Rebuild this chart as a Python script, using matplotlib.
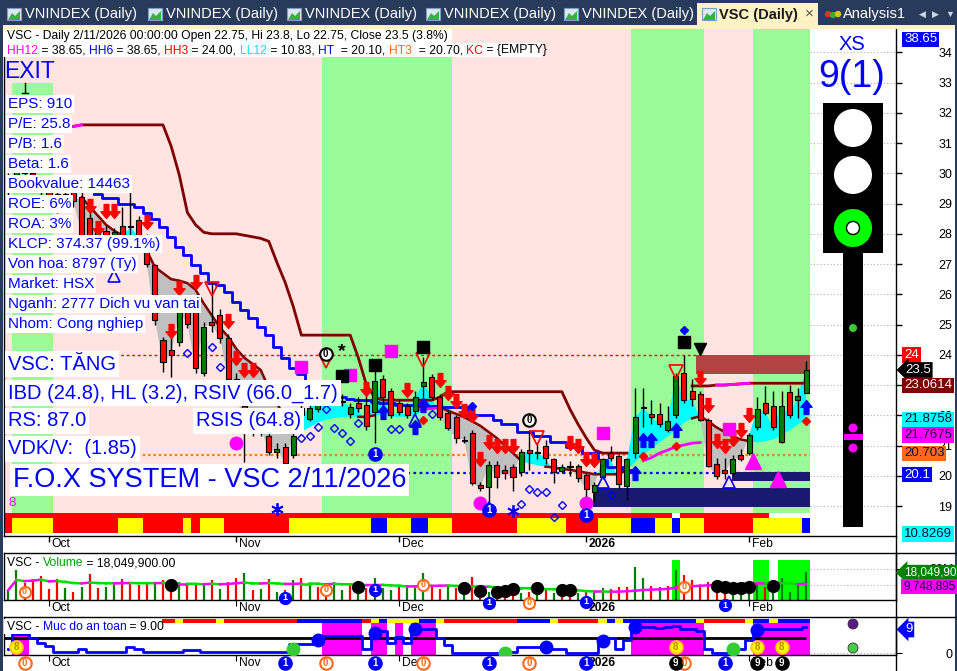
import numpy as np
import pandas as pd
import matplotlib
matplotlib.use("Agg")
import matplotlib.pyplot as plt
from matplotlib.patches import Rectangle, Circle, Polygon
from matplotlib.path import Path
from matplotlib.font_manager import FontProperties
import matplotlib.transforms as mtrans

plt.rcParams['font.family'] = ['Liberation Sans', 'DejaVu Sans']
nan = np.nan

# ---------------- data (one bar per session, late Sep 2025 -> 11 Feb 2026)
OPEN = [29.6, 29.8, 30.3, 30.0, 29.7, 29.5, 29.3, 28.9, 29.4, 29.2,
        28.52, 27.7, 28.1, 27.95, 28.25, 28.23, 28.46, 27.9, 26.97, 24.5,
        24.16, 24.43, 25.52, 25.42, 23.4, 25.1, 25.3, 24.56, 23.2, 22.3,
        21.8, 21.5, 21.3, 20.8, 20.95, 20.7, 22.24, 21.88, 22.2, 22.8,
        22.6, 22.45, 22.04, 22.4, 22.33, 22.12, 23.2, 22.8, 22.4, 22.3,
        22.15, 22.97, 23.28, 22.6, 22.08, 21.95, 21.15, 21.43, 19.7, 19.64,
        20.36, 20.2, 20.3, 20.13, 20.85, 20.76, 21.0, 20.56, 20.17, 20.3,
        20.33, 20.03, 19.47, 19.96, 20.76, 20.65, 19.67, 20.75, 22.23, 22.04,
        22.04, 21.53, 22.0, 23.4, 22.8, 22.7, 21.84, 20.4, 20.18, 20.08,
        20.7, 20.77, 21.6, 22.4, 22.3, 21.13, 22.76, 22.5, 22.75]
HIGH = [30.0, 30.6, 30.4, 30.1, 29.8, 29.6, 29.4, 29.5, 29.5, 29.4,
        28.7, 28.3, 28.3, 28.2, 28.9, 29.4, 28.6, 28.0, 27.0, 24.6,
        24.93, 25.6, 25.8, 25.5, 25.1, 26.4, 25.5, 24.7, 23.4, 22.6,
        22.0, 21.8, 21.5, 21.1, 21.1, 21.4, 22.4, 22.5, 22.7, 22.9,
        22.9, 22.7, 22.4, 22.6, 22.74, 23.66, 23.33, 22.9, 22.5, 22.4,
        22.8, 23.94, 23.35, 22.7, 22.2, 22.0, 21.3, 21.5, 19.8, 20.5,
        20.5, 20.35, 20.4, 20.9, 21.5, 21.1, 21.2, 20.6, 20.4, 20.5,
        20.4, 20.1, 19.8, 20.6, 20.98, 20.7, 20.6, 22.9, 22.9, 22.5,
        22.4, 22.3, 23.4, 24.0, 23.2, 22.8, 21.9, 20.6, 20.6, 20.7,
        20.9, 21.4, 22.6, 22.97, 22.8, 22.8, 23.0, 22.9, 23.8]
LOW = [29.2, 29.6, 29.8, 29.5, 29.2, 29.0, 28.7, 28.8, 28.9, 27.8,
       27.5, 27.6, 27.7, 27.8, 27.8, 27.9, 27.8, 26.9, 25.0, 23.44,
       23.28, 24.3, 24.9, 23.4, 23.3, 24.75, 24.4, 23.0, 22.4, 20.45,
       21.3, 21.3, 20.7, 20.6, 20.3, 20.6, 21.9, 21.8, 22.1, 22.5,
       22.4, 22.3, 21.9, 22.1, 21.5, 21.08, 21.94, 21.9, 22.0, 21.9,
       22.0, 22.5, 22.5, 21.85, 21.5, 21.1, 21.1, 19.7, 19.5, 18.85,
       19.6, 19.9, 19.5, 20.0, 20.2, 20.55, 20.4, 19.77, 20.1, 20.0,
       19.8, 18.8, 19.1, 19.9, 20.5, 19.6, 19.2, 20.6, 21.6, 21.7,
       21.6, 21.45, 21.9, 22.4, 22.3, 21.8, 20.3, 19.9, 19.9, 20.0,
       20.5, 20.7, 21.5, 22.0, 21.5, 21.1, 21.9, 21.9, 22.75]
CLOSE = [29.8, 30.3, 30.0, 29.7, 29.4, 29.2, 28.9, 29.3, 29.1, 27.96,
         27.64, 28.1, 27.9, 28.05, 27.9, 28.23, 27.9, 27.0, 25.15, 23.77,
         24.0, 25.48, 25.02, 23.56, 24.93, 25.0, 24.56, 23.2, 22.6, 21.8,
         21.5, 21.6, 20.8, 20.9, 20.42, 21.33, 22.0, 22.24, 22.6, 22.6,
         22.8, 22.45, 22.28, 22.24, 21.65, 23.14, 22.6, 22.0, 22.1, 22.0,
         22.6, 23.1, 22.6, 21.95, 21.57, 21.25, 21.2, 19.76, 19.6, 20.36,
         19.97, 20.1, 19.97, 20.8, 20.77, 20.76, 20.58, 20.13, 20.29, 20.3,
         19.93, 19.56, 19.7, 20.55, 20.58, 19.73, 20.55, 21.95, 22.23, 21.95,
         21.7, 21.8, 23.3, 22.5, 22.53, 21.84, 20.33, 20.0, 20.1, 20.55,
         20.57, 21.35, 22.2, 22.08, 21.6, 22.3, 22.0, 22.64, 23.5]

# short moving average (gray / cyan cloud against close)
MA = [nan] * 9 + [
    29.2, 28.9, 28.6, 28.3, 28.1, 27.95, 27.85, 27.7, 27.45, 26.9,
    26.7, 26.5, 26.45, 26.37, 26.15, 25.7, 25.3, 24.9, 24.6, 24.2,
    23.9, 23.7, 23.5, 22.9, 22.4, 21.9, 21.6, 21.45, 21.6, 21.75,
    21.85, 21.9, 21.95, 21.95, 21.95, 21.95, 22.0, 22.0, 21.95, 21.95,
    21.95, 22.0, 22.15, 22.3, 22.27, 22.15, 22.05, 21.94, 21.8, 21.65,
    21.45, 21.25, 21.0, 20.75, 20.5, 20.4, 20.35, 20.3, 20.28, 20.22,
    20.2, 20.15, 20.1, 20.05, 20.05, 20.05, 20.05, 20.2, 20.45, 20.7,
    20.9, 21.1, 21.3, 21.5, 21.75, 21.9, 21.97, 21.8, 21.6, 21.45,
    21.3, 21.2, 21.15, 21.1, 21.15, 21.2, 21.35, 21.5, 21.7, 21.88]

# upper trailing stop (brown)
STOP_HI = ([nan] * 8 + [31.55] + [31.6] * 11 +
           [30.9, 29.95, 28.7, 28.3, 28.05, 28.0, 28.0, 28.0, 28.0, 27.95,
            27.9, 27.85, 27.75, 27.05, 26.4, 25.6, 24.65] +
           [24.65] * 6 + [23.9, 23.0, 22.6] + [22.5] * 7 + [22.6] +
           [22.78] * 15 + [22.2, 21.7, 21.25, 20.85] + [20.75] * 4 +
           [nan] * 7 + [22.97, 22.97, 22.97, 23.0, 23.0, 23.02, 23.04] + [23.06] * 8)
STOP_MAG = [(8, 9), (87, 91)]

# blue step line
STOP_LO = ([nan] * 11 +
           [29.3, 29.17, 29.17, 29.0, 29.0, 28.9, 28.68, 28.5, 28.24, 27.9,
            27.57, 27.3, 26.97, 26.7, 26.36, 26.3, 26.08, 25.76, 25.48, 25.2,
            24.93, 24.65, 24.27, 23.88, 23.55, 23.35, 23.15, 23.0, 22.85, 22.7,
            22.6, 22.55, 22.5, 22.5, 22.45, 22.4, 22.4, 22.35, 22.35, 22.35,
            22.3, 22.3, 22.28, 22.28, 22.28, 22.28, 22.0, 22.0, 22.0, 21.84,
            21.7, 21.7, 21.46, 21.46, 21.3, 21.3, 21.13, 21.13, 20.96, 20.96,
            20.75, 20.75, 20.52, 20.3, 20.3, 20.2] + [nan] * 22)

# magenta line pieces
HT_LINE = ([nan] * 50 + [22.2, 22.2, 22.22, 22.25] + [nan] * 24 +
           [20.5, 20.6, 20.75, 20.85, 20.96, 21.02, 21.08, 21.1] + [nan] * 13)

HH3, HT3, HT = 24.0, 20.70, 20.10

# boxes: (bar from, bar to, price low, price high)
BOX_RED = [(84.5, 98.5, 23.37, 24.0)]
BOX_NAVY = [(71.8, 98.5, 18.98, 19.6), (88.9, 98.5, 19.84, 20.12)]

# background per bar: (start bar, code)
BG_RUNS = [(0, 'p'), (1, 'g'), (6, 'p'), (39, 'g'), (55, 'p'), (77, 'g'), (86, 'p'), (92, 'g')]
RIB_LOW = [(0, 'r'), (1, 'y'), (6, 'r'), (14, 'y'), (17, 'r'), (22, 'y'), (23, 'r'), (24, 'y'),
           (27, 'r'), (35, 'y'), (45, 'b'), (47, 'y'), (50, 'b'), (52, 'y'), (55, 'r'),
           (63, 'y'), (69, 'r'), (73, 'y'), (77, 'b'), (80, 'y'), (82, 'b'), (83, 'y'),
           (86, 'r'), (92, 'y'), (98, 'b')]
RIB_TOP = [(0, 'r'), (82, 'w'), (83, 'r'), (94, 'w')]
RIB_SAFE = [(0, 'y'), (1, 'r'), (21, 'y'), (22, 'r'), (26, 'y'), (27, 'r'), (36, 'b'), (44, 'r'),
            (45, 'y'), (46, 'b'), (47, 'y'), (51, 'b'), (53, 'y'), (54, 'r'), (63, 'b'),
            (67, 'y'), (68, 'r'), (73, 'y'), (74, 'b'), (75, 'y'), (76, 'b'), (85, 'y'),
            (86, 'r'), (91, 'y'), (92, 'b'), (94, 'y'), (95, 'b')]

# signals on the price pane (bar, price)
DN_ARROWS = [(10, 28.92), (11, 28.19), (12, 28.75), (13, 28.75), (17, 28.39), (20, 24.79),
             (21, 26.21), (23, 26.41), (27, 25.12), (28, 23.89), (29, 23.5), (30, 23.5),
             (44, 22.87), (49, 22.84), (53, 23.17), (54, 22.74), (55, 22.48), (56, 22.14),
             (57, 22.01), (58, 20.56), (59, 21.12), (60, 20.99), (61, 20.99), (62, 20.99),
             (69, 21.08), (70, 20.99), (71, 20.56), (72, 20.52), (85, 23.23), (86, 22.34),
             (87, 21.15), (88, 20.99), (89, 21.22), (90, 21.52), (91, 22.01)]
UP_ARROWS = [(46, 22.11), (51, 22.34), (50, 21.61), (77, 20.1), (78, 21.18), (79, 21.18),
             (82, 21.51), (98, 22.27)]
TRI_UP_HOLLOW = [(13, 26.6), (50, 21.84), (59, 18.95), (73, 19.8), (88.5, 19.8)]
TRI_DN_HOLLOW = [(25, 26.17), (39, 23.79), (51, 23.82), (65, 21.24), (82, 23.43)]
DIAM_HOLLOW = [(22, 24.06), (25, 24.26), (26, 23.6), (36, 21.25), (37, 21.32), (38, 21.62),
               (39, 22.21), (40, 21.58), (41, 21.42), (42, 21.15), (43, 21.75), (47, 21.55),
               (48, 21.55), (52, 22.04), (63, 19.08), (64, 19.58), (65, 19.48), (66, 19.48),
               (67, 18.65), (68, 19.05), (74, 19.35)]
MAG_DOTS = [(28, 21.1), (58, 19.1), (71, 19.1)]
MAG_SQ = [(36, 23.6), (42, 23.32), (47, 24.13), (73, 21.4), (88.5, 21.56)]
BLK_SQ = [(41, 23.3), (45, 23.66), (51, 24.26), (83, 24.42)]
BLK_TRI = [(85, 24.19)]
BLUE_DIAM = [(83, 24.82), (57, 22.31)]
RED_DIAM = [(51, 21.83), (78, 20.65), (82, 20.99), (98, 21.8)]
SNOW = [(33, 18.9), (62, 18.84)]
MAG_TRI = [(91.5, 20.49), (94.5, 19.89)]
ZERO_BADGE = [(39, 24.03), (64, 21.85)]
ONE_PINS = [(45, 20.72), (59, 18.87), (71, 18.7)]

# volume (millions) and up/down colouring
VOLUME = [6.4, 19.1, 10.7, 13.2, 15.3, 6.8, 13.2, 7.5, 5.3, 8.5,
          16.6, 7.5, 8.5, 9.6, 13.2, 11.7, 9.6, 10.7, 10.7, 12.8,
          5.3, 11.7, 10.7, 10.7, 10.7, 12.8, 6.8, 11.7, 13.8, 17.0,
          6.4, 6.8, 13.2, 5.3, 6.4, 12.8, 13.8, 10.7, 8.5, 4.7,
          11.7, 6.4, 9.6, 4.3, 7.5, 13.8, 7.5, 6.4, 9.6, 7.5,
          7.5, 17.0, 9.6, 6.8, 9.6, 7.5, 3.2, 14.9, 3.8, 5.3,
          3.8, 3.2, 3.8, 4.3, 5.3, 3.8, 6.4, 4.5, 3.2, 3.2,
          4.7, 6.4, 4.3, 7.5, 6.8, 8.1, 8.5, 21.2, 13.8, 8.9,
          8.1, 8.9, 19.1, 16.0, 12.8, 9.6, 11.7, 8.5, 9.6, 7.5,
          6.4, 7.5, 10.7, 8.1, 5.3, 13.8, 5.3, 10.2, 18.05]
VOL_DIR = ("ggrrrrrgrg" "rrggrrrrgr" "rgrrgrgrrg" "rgrgrgrgrr" "ggrgrgggrg"
           "ggrrgrgrrg" "rrrgrgrgrr" "grggrrrggr" "grgrrrrrrg" "gggrggggg")
VOL_HILITE = [82, 92, 93, 95, 96, 97, 98]
VOL_BLACK = [(20, 9.6), (43, 8.1), (56, 7.5), (58, 6.0), (60, 5.3), (61, 6.0), (62, 6.8),
             (65, 7.7), (68, 6.4), (69, 6.4), (87, 8.9), (88, 8.3), (89, 7.7), (90, 7.7),
             (91, 8.3), (94, 8.9)]
VOL_ZERO = [(2, 5.3), (39, 6.4), (51, 9.6), (64, -1.7), (83, 8.5)]
VOL_ONE = [(34, 1.3), (45, 6.4), (59, -1.7), (71, -1.1), (88, -3.2)]

# "Muc do an toan" (safety level)
SAFETY = [1.5, 6.4, 6.4, 5.1, 3.5, 2.5, 0.5, 0.5, 0.5, 1.3,
          0.5, 0.5, 0.5, 0.5, 0.5, 2.2, 1.3, 0.5, 0.5, 0.5,
          0.5, 0.5, 1.1, 1.1, 0.3, 0.3, 0.3, 0.3, 0.3, 0.3,
          0.3, 0.3, 0.3, 0.3, 0.3, 3.1, 3.1, 3.1, 4.6, 5.8,
          5.8, 5.8, 5.8, 5.8, 1.3, 7.5, 7.5, 3.4, 5.6, 3.4,
          8.1, 8.1, 8.1, 5.2, 2.8, 0.1, 0.1, 0.1, 0.1, 0.1,
          0.1, 0.3, 0.3, 2.2, 2.2, 2.2, 2.2, 1.3, 1.3, 0.1,
          0.1, 0.1, 0.1, 5.2, 5.2, 1.3, 4.3, 9.0, 9.0, 9.0,
          8.6, 8.8, 9.2, 8.1, 8.1, 7.5, 1.5, 0.1, 0.1, 0.1,
          1.5, 4.6, 8.1, 8.1, 8.1, 8.1, 8.1, 8.1, 9.0]
SAFE_LEVEL = 5.25
SAFE_EIGHT = [(1, 2.2), (82, 2.2), (92, 2.2), (95, 2.2)]
SAFE_GREEN = [(35, 1.3), (61, 0.1), (89, 1.3)]
SAFE_BLUE = [(38, 4.5), (45, 7.0), (50, 8.2), (66, 2.2), (73, 4.0), (77, 9.0), (92, 8.0)]
STRIP_ZERO = [2, 39, 51, 64, 83]
STRIP_ONE = [34, 45, 59, 71, 88]
STRIP_NINE = [82, 92, 95]

MONTH_POS = [5, 28, 48, 71, 91]
MONTH_LBL = ['Oct', 'Nov', 'Dec', '2026', 'Feb']
PRICE_TICKS = list(range(19, 35))

INFO = ["EPS: 910", "P/E: 25.8", "P/B: 1.6", "Beta: 1.6", "Bookvalue: 14463", "ROE: 6%",
        "ROA: 3%", "KLCP: 374.37 (99.1%)", "Von hoa: 8797 (Ty)", "Market: HSX",
        "Nganh: 2777 Dich vu van tai", "Nhom: Cong nghiep"]

COL = {'r': '#ff0000', 'y': '#ffff00', 'b': '#0000ff', 'w': '#ffffff',
       'p': '#ffe4e1', 'g': '#98fb98'}

N = len(CLOSE)
idx = np.arange(N)
o, h, l, c = map(np.array, (OPEN, HIGH, LOW, CLOSE))
ma = np.array(MA)
X0, X1 = -0.53, 109.05

W, H = 957, 671
fig = plt.figure(figsize=(W / 100, H / 100), dpi=100)
fig.patch.set_facecolor('white')
renderer = fig.canvas.get_renderer()


def px_axes(x0, y0, x1, y1):
    return fig.add_axes([x0 / W, 1 - y1 / H, (x1 - x0) / W, (y1 - y0) / H])


def runs(spec):
    out = []
    for k, (s, code) in enumerate(spec):
        e = spec[k + 1][0] if k + 1 < len(spec) else N
        out.append((s, e, code))
    return out


def text_w(s, size, weight='normal'):
    prop = FontProperties(family=['Liberation Sans'], size=size, weight=weight)
    w1 = renderer.get_text_width_height_descent(s + '|', prop, ismath=False)[0]
    w0 = renderer.get_text_width_height_descent('|', prop, ismath=False)[0]
    return w1 - w0


ax = px_axes(4, 29, 896, 536)
axv = px_axes(4, 553, 896, 600)
axs = px_axes(4, 617, 896, 655)
ov = fig.add_axes([0, 0, 1, 1], zorder=10)
ov.set_xlim(0, W)
ov.set_ylim(H, 0)
ov.axis('off')


def fy(py):  # pixel row -> fraction of the price pane
    return (536 - py) / 507


# ---------------- price pane
ax.set_xlim(X0, X1)
ax.set_ylim(18.01, 34.77)
rib0 = fy(513)
for s, e, code in runs(BG_RUNS):
    ax.axvspan(s - 0.5, e - 0.5, ymin=rib0, ymax=1, color=COL['p'], lw=0, zorder=0)
    if code == 'g':
        top = fy(83) if s == 1 else 1
        ax.axvspan(s - 0.5, e - 0.5, ymin=rib0, ymax=top, color=COL['g'], lw=0, zorder=0)
for s, e, code in runs(RIB_TOP):
    ax.axvspan(s - 0.5, e - 0.5, ymin=fy(518), ymax=rib0, color=COL[code], lw=0, zorder=0)
for s, e, code in runs(RIB_LOW):
    ax.axvspan(s - 0.5, e - 0.5, ymin=fy(533), ymax=fy(518), color=COL[code], lw=0, zorder=0)

ax.hlines(PRICE_TICKS, 98.5, X1, colors='#b0b0b0', linestyles=(0, (1, 2)), lw=0.8, zorder=0.5)
ax.hlines(HH3, -0.5, 84.5, colors='#ff0000', linestyles=(0, (2, 2)), lw=1, zorder=1)
ax.hlines(HT3, -0.5, 98.5, colors='#ff7f27', linestyles=(0, (1.2, 1.2)), lw=1.6, zorder=1)
ax.hlines(HT, 34.5, 98.5, colors='#0000ff', linestyles=(0, (1.2, 1.6)), lw=1.6, zorder=1)

ok = ~np.isnan(ma)
ma_f = np.where(ok, ma, c)
ax.fill_between(idx, ma_f, c, where=ok & (c < ma_f), color='#c0c0c0', interpolate=True, lw=0, zorder=2)
ax.fill_between(idx, ma_f, c, where=ok & (c >= ma_f), color='#00ffff', interpolate=True, lw=0, zorder=2)
below = ok & (c < ma_f)
show = below | np.roll(below, 1) | np.roll(below, -1)
ax.plot(idx, np.where(show & ok, ma, nan), color='#800000', lw=1.8, zorder=3)

for x0b, x1b, lo, hi in BOX_RED:
    ax.add_patch(Rectangle((x0b, lo), x1b - x0b, hi - lo, fc='#b24444', ec='none', zorder=2.5))
for x0b, x1b, lo, hi in BOX_NAVY:
    ax.add_patch(Rectangle((x0b, lo), x1b - x0b, hi - lo, fc='#191970', ec='none', zorder=2.5))

ax.plot(idx, STOP_HI, color='#800000', lw=2, zorder=3)
for a, b in STOP_MAG:
    ax.plot(idx[a:b + 1], STOP_HI[a:b + 1], color='#ff00ff', lw=2, zorder=3.1)
ax.plot(idx, STOP_LO, color='#0000ff', lw=2, drawstyle='steps-mid', zorder=3)
ax.plot(idx, HT_LINE, color='#ff00ff', lw=2, zorder=3)

ax.vlines(idx, l, h, color='black', lw=1, zorder=4)
body_col = np.where(c > o, '#008000', np.where(c < o, '#ff0000', 'black'))
ax.bar(idx, np.maximum(np.abs(c - o), 0.035), bottom=np.minimum(o, c), width=0.62,
       color=body_col, edgecolor='black', lw=0.8, zorder=5)

ARROW_DN = Path([(-0.17, 0.5), (0.17, 0.5), (0.17, -0.02), (0.4, -0.02), (0, -0.5),
                 (-0.4, -0.02), (-0.17, -0.02), (-0.17, 0.5)], closed=True)
ARROW_UP = Path([(x, -y) for x, y in ARROW_DN.vertices], closed=True)


def pts(lst):
    return [p[0] for p in lst], [p[1] for p in lst]


ax.plot(*pts(DN_ARROWS), ls='none', marker=ARROW_DN, ms=10, mfc='#ff0000', mec='#ff0000', zorder=6)
ax.plot(*pts(UP_ARROWS), ls='none', marker=ARROW_UP, ms=10, mfc='#0000ff', mec='#0000ff', zorder=6)
ax.plot(*pts(TRI_UP_HOLLOW), ls='none', marker='^', ms=9, mfc='none', mec='#0000ff', mew=1.2, zorder=6)
ax.plot(*pts(TRI_DN_HOLLOW), ls='none', marker='v', ms=10, mfc='none', mec='#ff0000', mew=1.2, zorder=6)
ax.plot(*pts(DIAM_HOLLOW), ls='none', marker='D', ms=4, mfc='none', mec='#0000ff', mew=1, zorder=6)
ax.plot(*pts(MAG_DOTS), ls='none', marker='o', ms=9, mfc='#ff00ff', mec='#ff00ff', zorder=6)
ax.plot(*pts(MAG_SQ), ls='none', marker='s', ms=8.5, mfc='#ff00ff', mec='#ff00ff', zorder=6)
ax.plot(*pts(BLK_SQ), ls='none', marker='s', ms=8.5, mfc='black', mec='black', zorder=6)
ax.plot(*pts(BLK_TRI), ls='none', marker='v', ms=9, mfc='black', mec='black', zorder=6)
ax.plot(*pts(BLUE_DIAM), ls='none', marker='D', ms=4.5, mfc='#0000ff', mec='#0000ff', zorder=6)
ax.plot(*pts(RED_DIAM), ls='none', marker='D', ms=4.5, mfc='#ff0000', mec='#ff0000', zorder=6)
ax.plot(*pts(SNOW), ls='none', marker=(6, 2, 0), ms=9, mec='#0000ff', mew=1.3, zorder=6)
ax.plot(*pts(MAG_TRI), ls='none', marker='^', ms=11, mfc='#ff00ff', mec='#ff00ff', zorder=6)


def badge(a, x, y, s, face, edge, tc, ms=9, fs=7):
    a.plot(x, y, 'o', ms=ms, mfc=face, mec=edge, mew=1.5, zorder=7, clip_on=False)
    a.text(x, y, s, color=tc, fontsize=fs, fontweight='bold', ha='center', va='center',
           zorder=8, clip_on=False)


for x, y in ZERO_BADGE:
    badge(ax, x, y, '0', 'white', 'black', 'black')
for x, y in ONE_PINS:
    badge(ax, x, y, '1', '#0000ff', '#0000ff', 'white')
ax.text(41, 24.09, '*', fontsize=14, fontweight='bold', ha='center', va='center', zorder=7)

ax.yaxis.tick_right()
ax.set_yticks(PRICE_TICKS)
# 23 sits fully under the 23.0614 value tag, as in the source chart
ax.set_yticklabels(['' if t == 23 else str(t) for t in PRICE_TICKS])
ax.tick_params(axis='y', direction='out', length=4.3, width=1, pad=26, labelsize=9)
ax.set_xticks(MONTH_POS)
ax.set_xticklabels([])
ax.tick_params(axis='x', direction='out', length=4.3, width=1)
ax.spines['top'].set_visible(False)

# ---------------- volume pane
axv.set_xlim(X0, X1)
axv.set_ylim(0, 30)
for b in VOL_HILITE:
    axv.add_patch(Rectangle((b - 0.5, 0), 1, 25.5, fc='#00ff00', ec='none', zorder=0.5))
axv.hlines([20, 9.75], 98.5, X1, colors='#b0b0b0', linestyles=(0, (1, 2)), lw=0.8)
vcol = ['#008000' if d == 'g' else '#ff0000' for d in VOL_DIR]
axv.vlines(idx, 0, VOLUME, colors=vcol, lw=1.6, zorder=2)
vma = pd.Series(VOLUME).rolling(20, min_periods=1).mean().values
for i in range(N - 1):
    axv.plot([i, i + 1], vma[i:i + 2], color='#ff00ff' if vma[i + 1] >= vma[i] else '#00dd00',
             lw=1.8, zorder=3)
axv.plot(*pts(VOL_BLACK), ls='none', marker='o', ms=8.5, mfc='black', mec='black', zorder=5)
for x, y in VOL_ZERO:
    badge(axv, x, y, '0', 'white', '#ff6a1a', '#ff6a1a', ms=8, fs=6.5)
for x, y in VOL_ONE:
    badge(axv, x, y, '1', '#0000ff', '#0000ff', 'white', ms=8, fs=6.5)
axv.yaxis.tick_right()
axv.set_yticks([20])
axv.set_yticklabels(['20M'])
axv.tick_params(axis='y', direction='out', length=4.3, pad=20, labelsize=9)
axv.set_xticks(MONTH_POS)
axv.set_xticklabels([])
axv.tick_params(axis='x', direction='out', length=4.3)

# ---------------- safety pane
axs.set_xlim(X0, X1)
axs.set_ylim(-0.68, 12.33)
sv = np.array(SAFETY)
for i in idx[sv > SAFE_LEVEL]:
    axs.axvspan(i - 0.5, i + 0.5, ymin=0, ymax=(655 - 623) / 38, color='#ff00ff', lw=0, zorder=0.5)
for s, e, code in runs(RIB_SAFE):
    axs.axvspan(s - 0.5, e - 0.5, ymin=(655 - 623) / 38, ymax=(655 - 618.5) / 38,
                color=COL[code], lw=0, zorder=0.5)
axs.hlines(SAFE_LEVEL, -0.5, 98, colors='black', lw=2, zorder=2)
axs.hlines(0, 98.5, X1, colors='#b0b0b0', linestyles=(0, (1, 2)), lw=0.8)
axs.plot(idx, sv, color='#0000ff', lw=2, drawstyle='steps-mid', zorder=3)
axs.plot(*pts(SAFE_GREEN), ls='none', marker='o', ms=9, mfc='#33cc33', mec='#33cc33', zorder=5)
axs.plot(*pts(SAFE_BLUE), ls='none', marker='o', ms=9, mfc='#0000ff', mec='#0000ff', zorder=5)
for x, y in SAFE_EIGHT:
    badge(axs, x, y, '8', '#ffff00', '#ffcc00', '#c08000', ms=9, fs=7)
STRIP_V = -3.45
for x in STRIP_ZERO:
    badge(axs, x, STRIP_V, '0', 'white', '#ff6a1a', '#ff6a1a', ms=9, fs=7)
for x in STRIP_ONE:
    badge(axs, x, STRIP_V, '1', '#0000ff', '#0000ff', 'white', ms=9, fs=7)
for x in STRIP_NINE:
    badge(axs, x, STRIP_V, '9', 'black', 'black', 'white', ms=9, fs=7)
axs.yaxis.tick_right()
axs.set_yticks([0])
axs.tick_params(axis='y', direction='out', length=4.3, pad=31, labelsize=9)
axs.set_xticks(MONTH_POS)
axs.set_xticklabels([])
axs.tick_params(axis='x', direction='out', length=4.3)

# month labels under each pane
for a, ypx, y0, hpx in ((ax, 544, 536, 507), (axv, 608, 600, 47), (axs, 663, 655, 38)):
    tr = mtrans.blended_transform_factory(a.transData, a.transAxes)
    for p, lab in zip(MONTH_POS, MONTH_LBL):
        a.text(p + 0.35, (y0 - ypx) / hpx, lab, transform=tr, fontsize=8.75, ha='left', va='center',
               fontweight='bold' if lab == '2026' else 'normal', zorder=1, clip_on=False)

for a in (ax, axv, axs):
    for sp in a.spines.values():
        sp.set_linewidth(1)

# ---------------- overlay: tab bar, frame, labels, signal light
ov.add_patch(Rectangle((0, 0), W, 26, fc='#293b5a', ec='none'))
ov.add_patch(Rectangle((0, 25), W, 4, fc='#fdf2c4', ec='none'))
ov.add_patch(Rectangle((0, 25), 3, H, fc='#293b5a', ec='none'))
ov.add_patch(Rectangle((955, 25), 2, H, fc='#293b5a', ec='none'))


def chart_icon(x):
    ov.add_patch(Rectangle((x, 8), 14, 12, fc='#dce7f5', ec='#7f9cc4', lw=0.8))
    ov.add_patch(Polygon([(x + 1, 20), (x + 5, 13), (x + 8, 16), (x + 13, 11), (x + 13, 20)],
                         closed=True, fc='#36b040', ec='none'))


for x in (7, 148, 287, 426, 564):
    chart_icon(x)
    ov.text(x + 18, 14, 'VNINDEX (Daily)', color='white', fontsize=10.5, va='center', ha='left')
ov.add_patch(Rectangle((697, 3), 121, 26, fc='#fdf2c4', ec='none'))
chart_icon(702)
ov.text(719, 15, 'VSC (Daily)', color='#1a1a1a', fontsize=10.5, fontweight='bold', va='center')
ov.text(809, 14, '×', color='#555555', fontsize=11, ha='center', va='center')
for dx, colr in ((0, '#e03030'), (5, '#30b030'), (10, '#e0c020')):
    ov.add_patch(Circle((828 + dx, 14 + (dx % 10) * 0.2), 3.2, fc=colr, ec='none'))
ov.text(843, 14, 'Analysis1', color='white', fontsize=10.5, va='center')
for x, s in ((922, '◀'), (935, '▶'), (950, '▼')):
    ov.text(x, 14, s, color='#d0d6e0', fontsize=6.5, ha='center', va='center')

# header lines
ov.add_patch(Rectangle((3, 29), 449, 14, fc='white', ec='none'))
ov.add_patch(Rectangle((3, 43), 539, 14, fc='white', ec='none'))
ov.text(7, 36, 'VSC - Daily 2/11/2026 00:00:00 Open 22.75, Hi 23.8, Lo 22.75, Close 23.5 (3.8%)',
        fontsize=8.75, va='center', ha='left', color='black')


def color_line(x, y, parts, size):
    for s, colr in parts:
        ov.text(x, y, s, color=colr, fontsize=size, va='center', ha='left')
        x += text_w(s, size)


color_line(7, 50.5, [('HH12', '#ff00ff'), (' = 38.65, ', 'black'), ('HH6', '#0000ff'),
                     (' = 38.65, ', 'black'), ('HH3', '#ff0000'), (' = 24.00, ', 'black'),
                     ('LL12', '#00e5ff'), (' = 10.83, ', 'black'), ('HT', '#0000ff'),
                     ('  = 20.10, ', 'black'), ('HT3', '#ff6a1a'), ('  = 20.70, ', 'black'),
                     ('KC', '#ff0000'), (' = {EMPTY}', 'black')], 8.75)

# left info block
ov.text(4, 71, 'EXIT', color='#0000ff', fontsize=16.5, va='center', ha='left')
ov.plot([25, 25], [83, 93], color='black', lw=1)
ov.plot([22, 28], [93, 93], color='black', lw=1)
box = dict(boxstyle='square,pad=0.12', fc='white', ec='none')
for k, s in enumerate(INFO):
    ov.text(8, 104 + 20 * k, s, color='#0000ff', fontsize=11, va='center', ha='left', bbox=box)
big = dict(boxstyle='square,pad=0.15', fc='white', ec='none')
ov.text(8, 364, 'VSC: TĂNG', color='#0000ff', fontsize=14.5, va='center', bbox=big)
ov.text(8, 393, 'IBD (24.8), HL (3.2), RSIV (66.0_1.7)', color='#0000ff', fontsize=14.5,
        va='center', bbox=big)
ov.text(8, 421, 'RS: 87.0', color='#0000ff', fontsize=14.5, va='center', bbox=big)
ov.text(196, 421, 'RSIS (64.8)', color='#0000ff', fontsize=14.5, va='center', bbox=big)
ov.text(8, 449, 'VDK/V:  (1.85)', color='#0000ff', fontsize=14.5, va='center', bbox=big)
ov.text(13, 480, 'F.O.X SYSTEM - VSC 2/11/2026', color='#0000ff', fontsize=19.5, va='center',
        bbox=dict(boxstyle='square,pad=0.1', fc='white', ec='none'))
ov.text(8, 503, '8', color='#ff00ff', fontsize=9.5, va='center')

# pane titles
color_line(7, 563, [('VSC - ', 'black'), ('Volume', '#00a000'), (' = 18,049,900.00', 'black')], 8.75)
ov.add_patch(Rectangle((4, 619), 158, 15, fc='white', ec='none'))
color_line(7, 627, [('VSC - ', 'black'), ('Muc do an toan', '#0000ff'), (' = 9.00', 'black')], 8.75)

# axis frame pieces outside panes
ov.plot([896, 896], [536, H], color='black', lw=1)
ov.plot([896, W], [553, 553], color='black', lw=1)
ov.plot([896, W], [617, 617], color='black', lw=1)

# signal light
ov.text(852, 45, 'XS', color='#0000ff', fontsize=14.5, ha='center', va='center')
ov.text(852, 77, '9(1)', color='#0000ff', fontsize=27, ha='center', va='center')
ov.add_patch(Rectangle((823, 103), 60, 150, fc='black', ec='none'))
ov.add_patch(Rectangle((843, 253), 20, 274, fc='black', ec='none'))
ov.add_patch(Circle((853, 128), 19, fc='white', ec='none'))
ov.add_patch(Circle((853, 175), 19, fc='white', ec='none'))
ov.add_patch(Circle((853, 228), 19, fc='#00ff00', ec='none'))
ov.add_patch(Circle((853, 228), 6.5, fc='white', ec='black', lw=1))
ov.add_patch(Circle((853, 328), 4, fc='#33cc33', ec='none'))
ov.add_patch(Circle((853, 428), 4.5, fc='#ff00ff', ec='none'))
ov.add_patch(Circle((853, 448), 4.5, fc='#ff00ff', ec='none'))
ov.add_patch(Rectangle((844, 434), 19, 6, fc='#ff00ff', ec='none'))
ov.add_patch(Circle((853, 624), 5, fc='#5b1a8c', ec='#333333', lw=0.6))
ov.add_patch(Circle((853, 648), 5, fc='#44cc44', ec='#333333', lw=0.6))


def tag(x, y, s, fc, tc, arrow=False, size=9.5):
    style = 'larrow,pad=0.14' if arrow else 'square,pad=0.14'
    ov.text(x, y, s, fontsize=size, color=tc, ha='left', va='center',
            bbox=dict(boxstyle=style, fc=fc, ec='none'))


tag(904, 39.5, '38.65', '#0000ff', 'white')
tag(904, 355, '24', '#ff0000', 'white')
tag(905, 370, '23.5', 'black', 'white', arrow=True)
tag(904, 385.5, '23.0614', '#800000', 'white')
tag(904, 419.5, '21.8758', '#00ffff', '#101030')
tag(904, 435, '21.7675', '#ff00ff', '#101030')
tag(904, 453.5, '20.703', '#ff6a1a', '#101030')
tag(904, 474.5, '20.1', '#0000ff', 'white')
tag(904, 534, '10.8269', '#00ffff', '#101030')
tag(904, 572.5, '18,049,90', '#008000', 'white', arrow=True, size=8.5)
tag(903, 586.5, '9,748,895', '#ff00ff', '#101030', size=8.5)
tag(905, 629.5, '9', '#0000ff', 'white', arrow=True)

fig.savefig('out.png', dpi=100, facecolor='white')
